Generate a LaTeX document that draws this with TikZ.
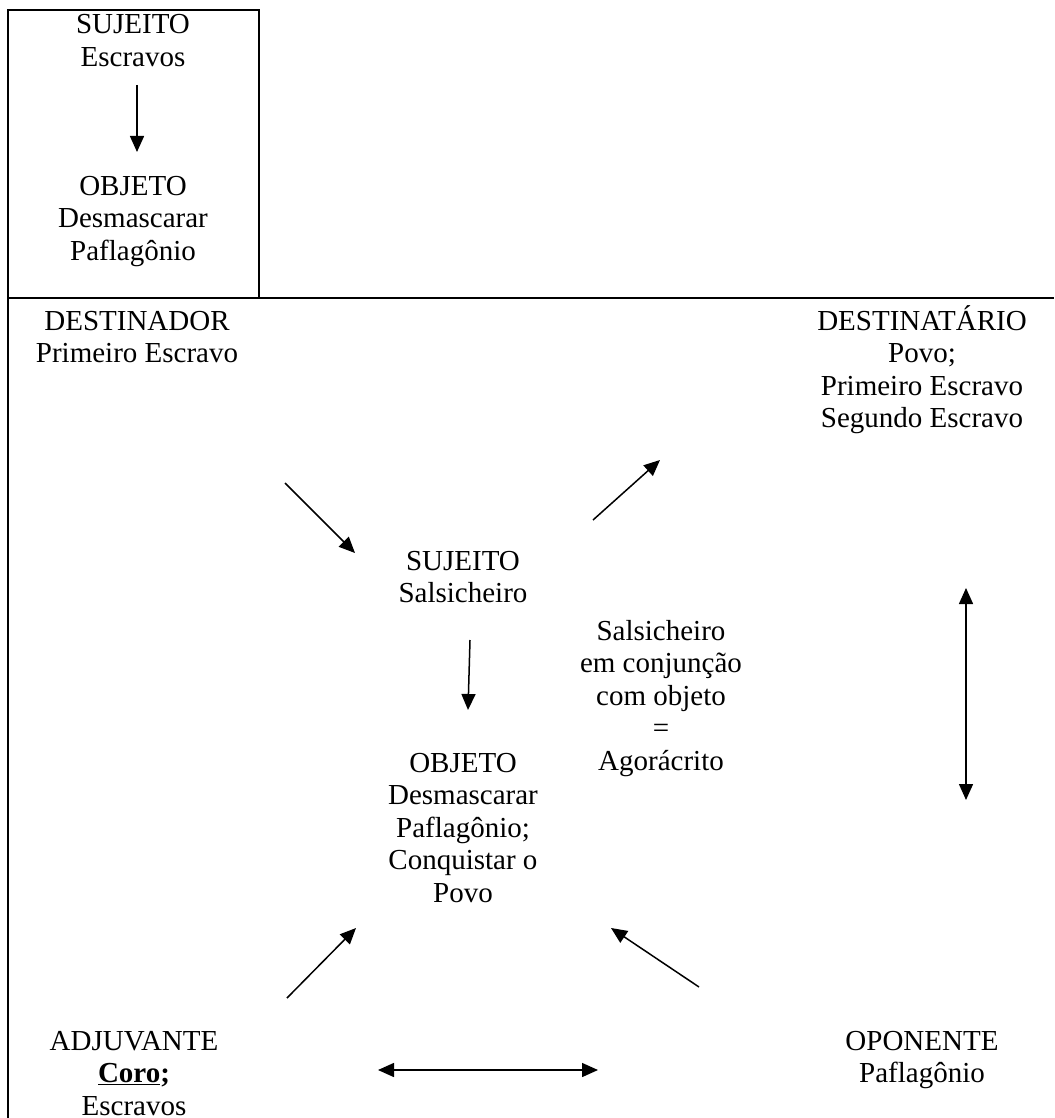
\documentclass[tikz,border=0pt]{standalone}
\usepackage{fontspec}
\setmainfont{Liberation Serif}
\usetikzlibrary{arrows.meta}
\begin{document}
\begin{tikzpicture}[x=1pt,y=-1pt,
  % labels are placed by the baseline of their last line
  lbl/.style={align=center, inner sep=0pt, anchor=base, font=\fontsize{29}{32.5}\selectfont},
  rule/.style={line width=2pt},
  arr/.style={line width=1.5pt, -{Triangle[length=16pt,width=14pt]}},
  darr/.style={line width=1.5pt, {Triangle[length=16pt,width=14pt]}-{Triangle[length=16pt,width=14pt]}}]
\useasboundingbox (0,0) rectangle (1054,1118);

% table frame
\draw[rule] (8,1118) -- (8,10) -- (259,10) -- (259,298);
\draw[rule] (8,298) -- (1054,298);

% small schema in the upper cell
\node[lbl] (suj1) at (133,66.5) {SUJEITO\\Escravos};
\node[lbl] (obj1) at (133,260) {OBJETO\\Desmascarar\\Paflagônio};
\coordinate (suj1-out) at (137,85);
\coordinate (obj1-in) at (137,152);
\draw[arr] (suj1-out) -- (obj1-in);

% actantial model
\node[lbl] (dest) at (137,362.5) {DESTINADOR\\Primeiro Escravo};
\node[lbl] (destat) at (922,427.5) {DESTINATÁRIO\\Povo;\\Primeiro Escravo\\Segundo Escravo};
\node[lbl] (suj) at (463,602.5) {SUJEITO\\Salsicheiro};
\node[lbl] (obj) at (463,902) {OBJETO\\Desmascarar\\Paflagônio;\\Conquistar o\\Povo};
\node[lbl] (conj) at (661,770) {Salsicheiro\\em conjunção\\com objeto\\=\\Agorácrito};
\node[lbl] (adj) at (134,1115) {ADJUVANTE\\\underline{\textbf{Coro}}\textbf{;}\\Escravos};
\node[lbl] (opo) at (922,1082.5) {OPONENTE\\Paflagônio};

% arrow end points
\coordinate (dest-out) at (285,483);
\coordinate (suj-in) at (355,553);
\coordinate (suj-out) at (593,520);
\coordinate (destat-in) at (660,460);
\coordinate (suj-down) at (470,640);
\coordinate (obj-top) at (468,710);
\coordinate (destat-low) at (966,588);
\coordinate (opo-high) at (966,800);
\coordinate (adj-out) at (287,998);
\coordinate (obj-left) at (356,928);
\coordinate (opo-out) at (699,987);
\coordinate (obj-right) at (611,928);
\coordinate (adj-right) at (378,1070);
\coordinate (opo-left) at (598,1070);

\draw[arr] (dest-out) -- (suj-in);
\draw[arr] (suj-out) -- (destat-in);
\draw[arr] (suj-down) -- (obj-top);
\draw[darr] (destat-low) -- (opo-high);
\draw[arr] (adj-out) -- (obj-left);
\draw[arr] (opo-out) -- (obj-right);
\draw[darr] (adj-right) -- (opo-left);
\end{tikzpicture}
\end{document}
